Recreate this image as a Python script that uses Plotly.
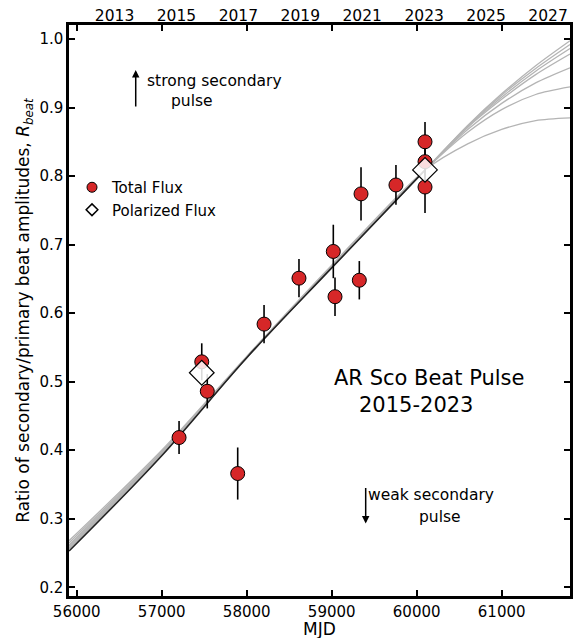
import plotly.graph_objects as go

# ---- data ----
tot_mjd = [57204, 57471, 57536, 57894, 58204, 58615, 59019, 59039, 59325, 59345, 59756, 60098, 60098, 60098]
tot_r   = [0.4185, 0.529, 0.486, 0.366, 0.584, 0.651, 0.690, 0.624, 0.648, 0.774, 0.787, 0.850, 0.821, 0.784]
tot_err = [0.024, 0.027, 0.025, 0.038, 0.028, 0.028, 0.039, 0.028, 0.028, 0.039, 0.029, 0.029, 0.030, 0.038]

pol_mjd = [57471, 60098]
pol_r   = [0.513, 0.809]

fit_mjd = [55910, 57000, 58000, 59000, 60100]
fit_r   = [0.253, 0.392, 0.535, 0.666, 0.809]

model_mjd = [55910, 57000, 58000, 59000, 60100, 60600, 61000, 61400, 61804]
model_curves = [
    [0.256, 0.394, 0.535, 0.667, 0.809, 0.874, 0.920, 0.961, 0.9975],
    [0.257, 0.395, 0.535, 0.667, 0.809, 0.873, 0.918, 0.957, 0.992],
    [0.258, 0.395, 0.535, 0.667, 0.809, 0.872, 0.915, 0.953, 0.986],
    [0.260, 0.396, 0.535, 0.668, 0.809, 0.871, 0.912, 0.948, 0.978],
    [0.262, 0.397, 0.536, 0.668, 0.809, 0.868, 0.906, 0.936, 0.958],
    [0.265, 0.398, 0.536, 0.669, 0.809, 0.864, 0.897, 0.919, 0.930],
    [0.268, 0.400, 0.537, 0.670, 0.809, 0.847, 0.868, 0.881, 0.885],
]

x_ticks = [56000, 57000, 58000, 59000, 60000, 61000]
y_ticks = [0.2, 0.3, 0.4, 0.5, 0.6, 0.7, 0.8, 0.9, 1.0]
year_ticks = [2013, 2015, 2017, 2019, 2021, 2023, 2025, 2027]

FONT = "DejaVu Sans"

fig = go.Figure()

for curve in model_curves:
    fig.add_trace(go.Scatter(x=model_mjd, y=curve, mode="lines",
                             line=dict(color="#b4b4b4", width=1.3, shape="spline", smoothing=0.8),
                             showlegend=False, hoverinfo="skip"))

fig.add_trace(go.Scatter(x=fit_mjd, y=fit_r, mode="lines",
                         line=dict(color="#222222", width=1.6, shape="spline"),
                         showlegend=False))

fig.add_trace(go.Scatter(x=tot_mjd, y=tot_r, mode="markers",
                         marker=dict(symbol="circle", size=14, color="#d62728",
                                     line=dict(color="black", width=1)),
                         error_y=dict(type="data", array=tot_err, color="black",
                                      thickness=1.6, width=0),
                         showlegend=False))

fig.add_trace(go.Scatter(x=pol_mjd, y=pol_r, mode="markers",
                         marker=dict(symbol="diamond", size=19, color="rgba(255,255,255,0.85)",
                                     line=dict(color="black", width=1.2)),
                         showlegend=False))

# legend entries
fig.add_trace(go.Scatter(x=[None], y=[None], mode="markers", name="Total Flux",
                         marker=dict(symbol="circle", size=10, color="#d62728",
                                     line=dict(color="black", width=1))))
fig.add_trace(go.Scatter(x=[None], y=[None], mode="markers", name="Polarized Flux",
                         marker=dict(symbol="diamond", size=9, color="white",
                                     line=dict(color="black", width=1.5))))

# top (year) axis carrier
fig.add_trace(go.Scatter(x=[year_ticks[0]], y=[None], xaxis="x2", mode="markers",
                         showlegend=False, hoverinfo="skip"))

axis_common = dict(showline=True, linecolor="black", linewidth=2.5, mirror="ticks",
                   ticks="inside", ticklen=6, tickwidth=2, tickcolor="black",
                   showgrid=False, zeroline=False, automargin=False,
                   tickfont=dict(family=FONT, size=15, color="black"))

fig.update_layout(
    width=583, height=638,
    margin=dict(l=69, r=13, t=25, b=42),
    paper_bgcolor="white", plot_bgcolor="white",
    font=dict(family=FONT, color="black"),
    xaxis=dict(range=[55909, 61804], tickvals=x_ticks, tickformat="d", **axis_common),
    yaxis=dict(range=[0.1873, 1.0204], tickvals=y_ticks, tickformat=".1f",
               title=dict(text="Ratio of secondary/primary beat amplitudes, <i>R</i><sub><i>beat</i></sub>",
                          font=dict(family=FONT, size=17), standoff=6),
               **axis_common),
    xaxis2=dict(overlaying="x", side="top", range=[2011.53, 2027.71],
                tickvals=year_ticks, ticks="", showline=False, showgrid=False,
                zeroline=False, automargin=False,
                tickfont=dict(family=FONT, size=15.5, color="black")),
    legend=dict(x=(72 - 69) / 501, y=(596 - 171) / 571, xanchor="left", yanchor="top",
                bgcolor="rgba(0,0,0,0)", font=dict(family=FONT, size=15),
                itemwidth=30, tracegroupgap=0),
    showlegend=True,
)

# x-axis title
fig.add_annotation(xref="paper", yref="paper", x=0.5, y=(596 - 629) / 571,
                   xanchor="center", yanchor="middle", text="MJD", showarrow=False,
                   font=dict(family=FONT, size=17, color="black"), borderpad=0)

ann_font = dict(family=FONT, size=15.5, color="black")
fig.add_annotation(x=56694, y=0.9547, ax=0, ay=38, axref="pixel", ayref="pixel",
                   showarrow=True, arrowhead=2, arrowsize=1, arrowwidth=1.5,
                   arrowcolor="black", text="")
fig.add_annotation(x=59400, y=0.293, ax=0, ay=-37, axref="pixel", ayref="pixel",
                   showarrow=True, arrowhead=2, arrowsize=1, arrowwidth=1.5,
                   arrowcolor="black", text="")
fig.add_annotation(x=57620, y=0.938, text="strong secondary", showarrow=False, font=ann_font)
fig.add_annotation(x=57360, y=0.909, text="pulse", showarrow=False, font=ann_font)
fig.add_annotation(x=60173, y=0.335, text="weak secondary", showarrow=False, font=ann_font)
fig.add_annotation(x=60270, y=0.303, text="pulse", showarrow=False, font=ann_font)
fig.add_annotation(x=60145, y=0.505, text="AR Sco Beat Pulse", showarrow=False,
                   font=dict(family=FONT, size=21, color="black"))
fig.add_annotation(x=59992, y=0.466, text="2015-2023", showarrow=False,
                   font=dict(family=FONT, size=21, color="black"))

fig.write_html("out.html")
